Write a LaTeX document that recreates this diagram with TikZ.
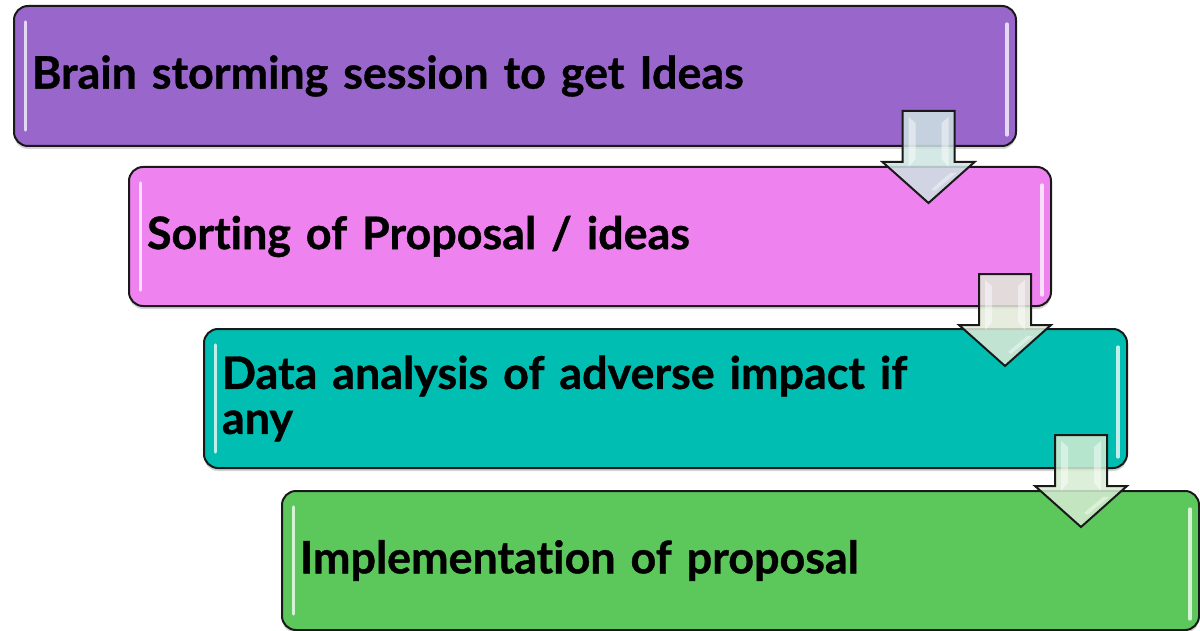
\documentclass[tikz,border=0pt]{standalone}
\usepackage{fontspec}
\setmainfont{Lato}[Ligatures=NoCommon, BoldFeatures={FakeBold=0.8}]
\usetikzlibrary{shadows,calc}
\definecolor{boxA}{RGB}{153,102,204}
\definecolor{boxB}{RGB}{238,130,238}
\definecolor{boxC}{RGB}{0,191,178}
\definecolor{boxD}{RGB}{92,200,92}
\definecolor{arrA}{RGB}{205,228,226}
\definecolor{arrB}{RGB}{226,234,216}
\definecolor{arrC}{RGB}{214,236,210}
\definecolor{edge}{RGB}{25,25,25}

% glossy highlights on the inner left and right edges of a box
\newcommand\shine[1]{%
  \draw[gloss] ($(#1.north west)+(12.5,17)$) -- ($(#1.south west)+(12.5,-17)$);
  \draw[gloss] ($(#1.north east)+(-10,19)$) -- ($(#1.south east)+(-10,-12)$);}

% downward block arrow hanging from a top-centre coordinate
\newcommand\flowarrow[2]{%
  \begin{scope}[shift={(#1)}]
    \path[flow, fill=#2] (-26,0) -- (26,0) -- (26,51) -- (46,51) -- (0,92)
      -- (-46,51) -- (-26,51) -- cycle;
    \fill[white, opacity=0.45] (-20,6) -- (-13,12) -- (-13,48) -- (-20,56) -- cycle;
    \fill[white, opacity=0.45] (20,6) -- (13,12) -- (13,48) -- (20,56) -- cycle;
    \fill[white, opacity=0.4] (22,62) -- (28,62) -- (6,80) -- (3,78) -- cycle;
  \end{scope}}

\begin{document}
\begin{tikzpicture}[x=0.5pt,y=-0.5pt,
  stepbox/.style={draw=edge, line width=1pt, rounded corners=7pt, anchor=north west,
    inner xsep=9pt, inner ysep=0pt, align=left,
    font=\bfseries\fontsize{22.4}{22.5}\selectfont,
    drop shadow={shadow xshift=0pt, shadow yshift=-1.5pt, opacity=0.35}},
  gloss/.style={draw=white, line width=1.6pt, line cap=round, opacity=0.75},
  flow/.style={draw=edge, line width=1pt, line join=miter, fill opacity=0.85}
]
\useasboundingbox (0,0) rectangle (1200,631);

\node[stepbox, fill=boxA, text width=483pt, minimum height=70pt] (s1) at (13,5)
  {Brain storming session to get Ideas};
\node[stepbox, fill=boxB, text width=443pt, minimum height=69.5pt] (s2) at (128,166)
  {Sorting of Proposal / ideas};
\node[stepbox, fill=boxC, text width=443.5pt, minimum height=69.5pt] (s3) at (203,328)
  {Data analysis of adverse impact if\\any};
\node[stepbox, fill=boxD, text width=440.5pt, minimum height=69.5pt] (s4) at (281,490)
  {Implementation of proposal};

\shine{s1}
\shine{s2}
\shine{s3}
\shine{s4}

\coordinate (a1) at ($(s1.south east)+(-88.5,-36)$);
\coordinate (a2) at ($(s2.south east)+(-47,-33)$);
\coordinate (a3) at ($(s3.south east)+(-47,-34)$);

\flowarrow{a1}{arrA}
\flowarrow{a2}{arrB}
\flowarrow{a3}{arrC}
\end{tikzpicture}
\end{document}
